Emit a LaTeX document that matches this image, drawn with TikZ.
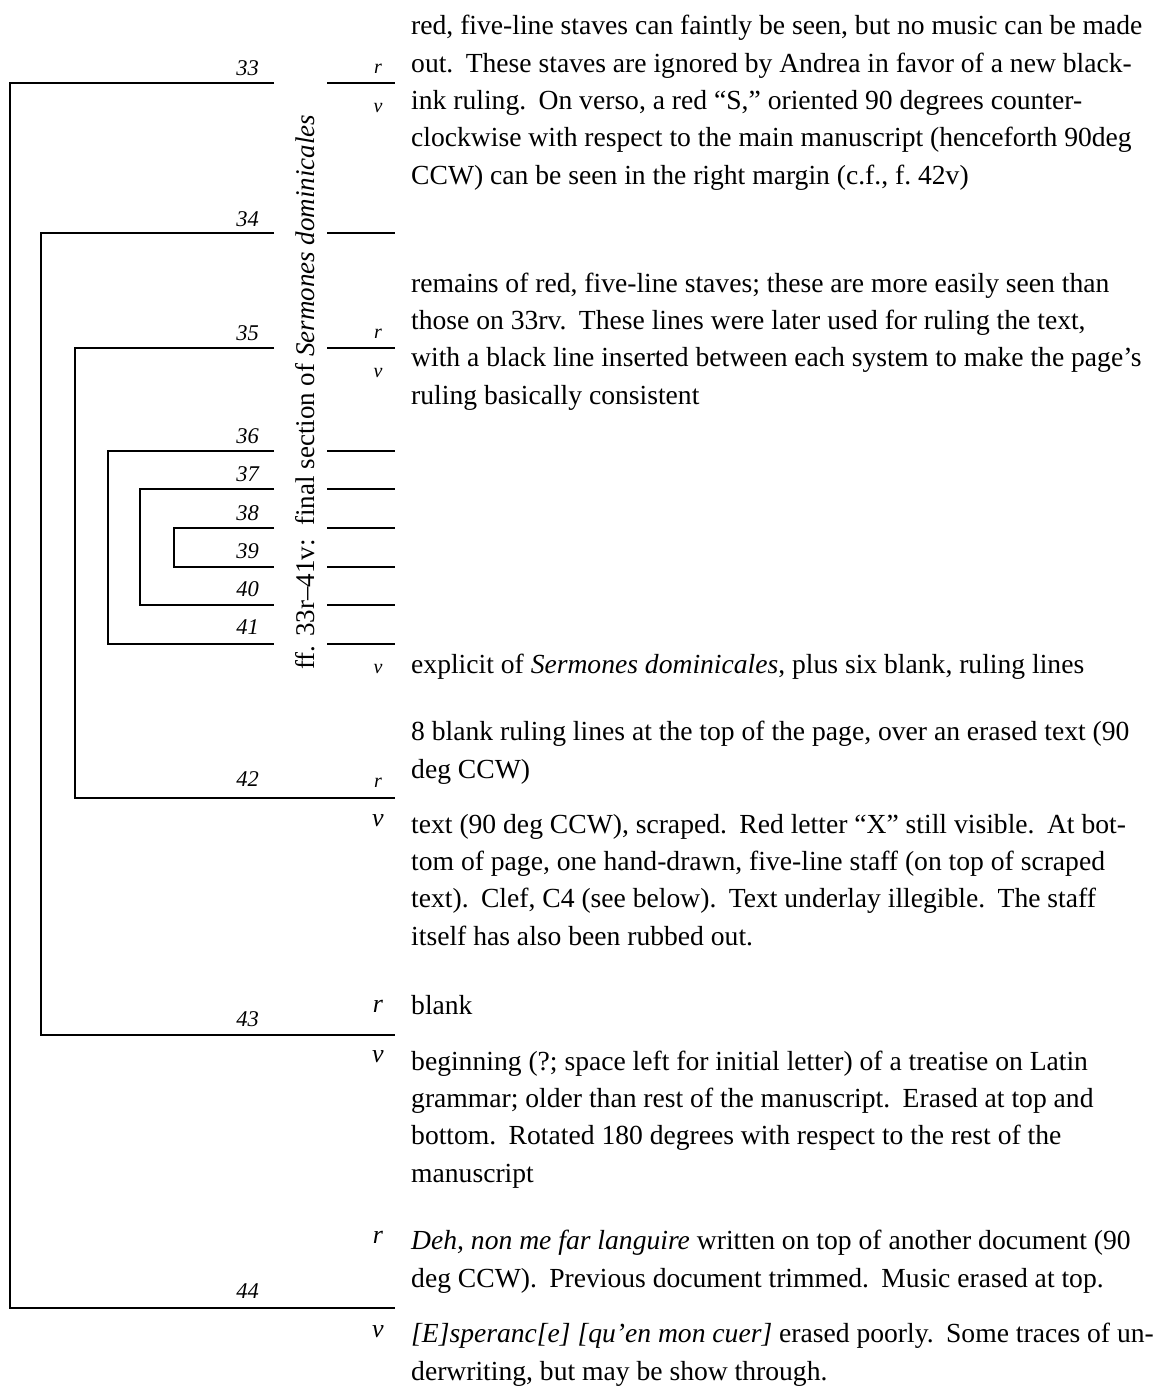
\documentclass[tikz,border=0pt]{standalone}
\usepackage{fontspec}
\setmainfont{Liberation Serif}
\newcommand\mysentsp{\nonfrenchspacing\xspaceskip=0.45em plus 0.1em\relax}
\begin{document}
\begin{tikzpicture}[x=1pt,y=1pt,
  ln/.style={line width=2.6pt, line join=miter},
  num/.style={font=\fontsize{22.5}{22.5}\selectfont\itshape, anchor=base east, inner sep=0pt},
  rvs/.style={font=\fontsize{20}{20}\selectfont\itshape, anchor=base, inner sep=0pt},
  rvb/.style={font=\fontsize{26}{26}\selectfont\itshape, anchor=base, inner sep=0pt},
  para/.style={font={\fontsize{27.6}{37.3}\selectfont\mysentsp}, align=left, anchor=base west, inner sep=0pt}]
\useasboundingbox (0,0) rectangle (1155,-1386);

% bracket coordinates
\coordinate (t33) at (274,-83);   \coordinate (c33) at (10,-83);
\coordinate (c44) at (10,-1308);  \coordinate (e44) at (395,-1308);
\coordinate (t34) at (274,-233);  \coordinate (c34) at (41,-233);
\coordinate (c43) at (41,-1035);  \coordinate (e43) at (395,-1035);
\coordinate (t35) at (274,-348);  \coordinate (c35) at (75,-348);
\coordinate (c42) at (75,-798);   \coordinate (e42) at (395,-798);
\coordinate (t36) at (274,-451);  \coordinate (c36) at (108,-451);
\coordinate (c41) at (108,-644);  \coordinate (t41) at (274,-644);
\coordinate (t37) at (274,-489);  \coordinate (c37) at (140,-489);
\coordinate (c40) at (140,-605);  \coordinate (t40) at (274,-605);
\coordinate (t38) at (274,-528);  \coordinate (c38) at (174,-528);
\coordinate (c39) at (174,-567);  \coordinate (t39) at (274,-567);

\draw[ln] (t33) -- (c33) -- (c44) -- (e44);
\draw[ln] (t34) -- (c34) -- (c43) -- (e43);
\draw[ln] (t35) -- (c35) -- (c42) -- (e42);
\draw[ln] (t36) -- (c36) -- (c41) -- (t41);
\draw[ln] (t37) -- (c37) -- (c40) -- (t40);
\draw[ln] (t38) -- (c38) -- (c39) -- (t39);

% right-hand short segments
\foreach \yy/\nm in {83/a,233/b,348/c,451/d,489/e,528/f,567/g,605/h,644/i}{
  \coordinate (sl\nm) at (327,-\yy);
  \coordinate (sr\nm) at (395,-\yy);
  \draw[ln] (sl\nm) -- (sr\nm);
}

% folio numbers
\node[num] (n33) at (259,-76) {33};
\node[num] (n34) at (259,-226) {34};
\node[num] (n35) at (259,-340) {35};
\node[num] (n36) at (259,-443) {36};
\node[num] (n37) at (259,-481) {37};
\node[num] (n38) at (259,-520) {38};
\node[num] (n39) at (259,-558) {39};
\node[num] (n40) at (259,-596) {40};
\node[num] (n41) at (259,-634) {41};
\node[num] (n42) at (259,-786) {42};
\node[num] (n43) at (259,-1026) {43};
\node[num] (n44) at (259,-1298) {44};

% rotated title
\node[font=\fontsize{27}{27}\selectfont, rotate=90, anchor=base west, inner sep=0pt] (title) at (314,-670)
  {ff. 33r--41v:\ \ final section of \textit{Sermones dominicales}};

% recto / verso marks
\node[rvs] (r33) at (378,-74) {r};
\node[rvs] (v33) at (378,-113) {v};
\node[rvs] (r35) at (378,-338) {r};
\node[rvs] (v35) at (378,-377) {v};
\node[rvs] (v41) at (378,-673) {v};
\node[rvs] (r42) at (378,-787) {r};
\node[rvb] (v42) at (378,-826) {v};
\node[rvb] (r43) at (378,-1012) {r};
\node[rvb] (v43) at (378,-1062) {v};
\node[rvb] (r44) at (378,-1243) {r};
\node[rvb] (v44) at (378,-1337) {v};

% descriptions (anchored at the baseline of their last line)
\node[para] (p33) at (411,-184) {red, five-line staves can faintly be seen, but no music can be made\\
out.  These staves are ignored by Andrea in favor of a new black-\\
ink ruling.  On verso, a red “S,” oriented 90 degrees counter-\\
clockwise with respect to the main manuscript (henceforth 90deg\\
CCW) can be seen in the right margin (c.f., f.\ 42v)};

\node[para] (p35) at (411,-404) {remains of red, five-line staves; these are more easily seen than\\
those on 33rv.  These lines were later used for ruling the text,\\
with a black line inserted between each system to make the page’s\\
ruling basically consistent};

\node[para] (p41) at (411,-673) {explicit of \textit{Sermones dominicales}, plus six blank, ruling lines};

\node[para] (p42r) at (411,-778) {8 blank ruling lines at the top of the page, over an erased text (90\\
deg CCW)};

\node[para] (p42v) at (411,-945) {text (90 deg CCW), scraped.  Red letter “X” still visible.  At bot-\\
tom of page, one hand-drawn, five-line staff (on top of scraped\\
text).  Clef, C4 (see below).  Text underlay illegible.  The staff\\
itself has also been rubbed out.};

\node[para] (p43r) at (411,-1014) {blank};

\node[para] (p43v) at (411,-1182) {beginning (?; space left for initial letter) of a treatise on Latin\\
grammar; older than rest of the manuscript.  Erased at top and\\
bottom.  Rotated 180 degrees with respect to the rest of the\\
manuscript};

\node[para] (p44r) at (411,-1287) {\textit{Deh, non me far languire} written on top of another document (90\\
deg CCW)\@.  Previous document trimmed.  Music erased at top.};

\node[para] (p44v) at (411,-1380) {\textit{[E]speranc[e] [qu’en mon cuer]} erased poorly.  Some traces of un-\\
derwriting, but may be show through.};
\end{tikzpicture}
\end{document}
